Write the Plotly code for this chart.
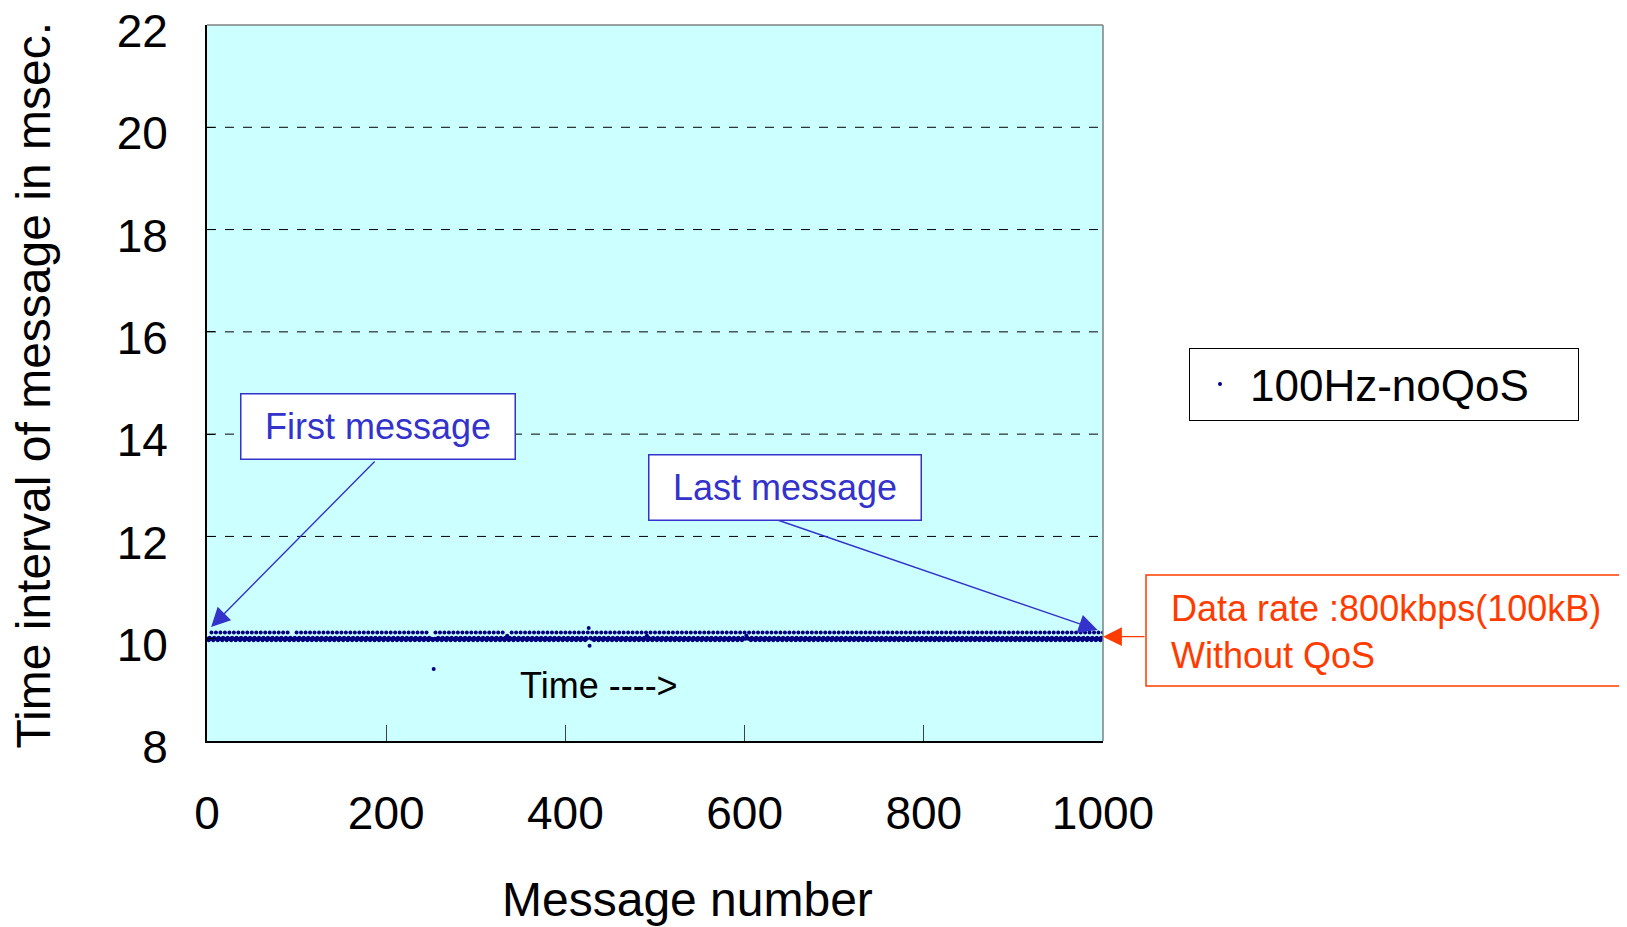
import plotly.graph_objects as go

# ---- data ----
x_ticks = [0, 200, 400, 600, 800, 1000]
y_ticks = [8, 10, 12, 14, 16, 18, 20, 22]
series_name = "100Hz-noQoS"

message_number = list(range(1, 1001))
interval_ms = [
    10.0, 9.97, 10.02, 10.0, 10.12, 10.0, 9.97, 10.02, 10.0, 10.12, 10.0, 9.97, 10.02, 10.0, 10.12, 10.0, 9.97, 10.02, 10.0, 10.12, 10.0, 9.97, 10.02, 10.0, 10.12,
    10.0, 9.97, 10.02, 10.0, 10.12, 10.0, 9.97, 10.02, 10.0, 10.12, 10.0, 9.97, 10.02, 10.0, 10.12, 10.0, 9.97, 10.02, 10.0, 10.12, 10.0, 9.97, 10.02, 10.0, 10.12,
    10.0, 9.97, 10.02, 10.0, 10.12, 10.0, 9.97, 10.02, 10.0, 10.12, 10.0, 9.97, 10.02, 10.0, 10.12, 10.0, 9.97, 10.02, 10.0, 10.12, 10.0, 9.97, 10.02, 10.0, 10.12,
    10.0, 9.97, 10.02, 10.0, 10.12, 10.0, 9.97, 10.02, 10.0, 10.12, 10.0, 9.97, 10.02, 10.0, 10.12, 10.0, 9.97, 10.02, 10.0, 10.0, 10.0, 9.97, 10.02, 10.0, 10.12,
    10.0, 9.97, 10.02, 10.0, 10.12, 10.0, 9.97, 10.02, 10.0, 10.12, 10.0, 9.97, 10.02, 10.0, 10.12, 10.0, 9.97, 10.02, 10.0, 10.12, 10.0, 9.97, 10.02, 10.0, 10.12,
    10.0, 9.97, 10.02, 10.0, 10.12, 10.0, 9.97, 10.02, 10.0, 10.12, 10.0, 9.97, 10.02, 10.0, 10.12, 10.0, 9.97, 10.02, 10.0, 10.12, 10.0, 9.97, 10.02, 10.0, 10.12,
    10.0, 9.97, 10.02, 10.0, 10.12, 10.0, 9.97, 10.02, 10.0, 10.12, 10.0, 9.97, 10.02, 10.0, 10.12, 10.0, 9.97, 10.02, 10.0, 10.12, 10.0, 9.97, 10.02, 10.0, 10.12,
    10.0, 9.97, 10.02, 10.0, 10.12, 10.0, 9.97, 10.02, 10.0, 10.12, 10.0, 9.97, 10.02, 10.0, 10.12, 10.0, 9.97, 10.02, 10.0, 10.12, 10.0, 9.97, 10.02, 10.0, 10.12,
    10.0, 9.97, 10.02, 10.0, 10.12, 10.0, 9.97, 10.02, 10.0, 10.12, 10.0, 9.97, 10.02, 10.0, 10.12, 10.0, 9.97, 10.02, 10.0, 10.12, 10.0, 9.97, 10.02, 10.0, 10.12,
    10.0, 9.97, 10.02, 10.0, 10.12, 10.0, 9.97, 10.02, 10.0, 10.12, 10.0, 9.97, 10.02, 10.0, 10.12, 10.0, 9.97, 10.02, 10.0, 10.12, 10.0, 9.97, 10.02, 10.0, 10.0,
    10.0, 9.97, 9.41, 10.0, 10.12, 10.0, 9.97, 10.02, 10.0, 10.12, 10.0, 9.97, 10.02, 10.0, 10.12, 10.0, 9.97, 10.02, 10.0, 10.12, 10.0, 9.97, 10.02, 10.0, 10.12,
    10.0, 9.97, 10.02, 10.0, 10.12, 10.0, 9.97, 10.02, 10.0, 10.12, 10.0, 9.97, 10.02, 10.0, 10.12, 10.0, 9.97, 10.02, 10.0, 10.12, 10.0, 9.97, 10.02, 10.0, 10.12,
    10.0, 9.97, 10.02, 10.0, 10.12, 10.0, 9.97, 10.02, 10.0, 10.12, 10.0, 9.97, 10.02, 10.0, 10.12, 10.0, 9.97, 10.02, 10.0, 10.12, 10.0, 9.97, 10.02, 10.0, 10.12,
    10.0, 9.97, 10.02, 10.0, 10.12, 10.0, 9.97, 10.02, 10.0, 10.06, 10.0, 9.97, 10.02, 10.0, 10.12, 10.0, 9.97, 10.02, 10.0, 10.12, 10.0, 9.97, 10.02, 10.0, 10.12,
    10.0, 9.97, 10.02, 10.0, 10.12, 10.0, 9.97, 10.02, 10.0, 10.12, 10.0, 9.97, 10.02, 10.0, 10.12, 10.0, 9.97, 10.02, 10.0, 10.12, 10.0, 9.97, 10.02, 10.0, 10.12,
    10.0, 9.97, 10.02, 10.0, 10.12, 10.0, 9.97, 10.02, 10.0, 10.12, 10.0, 9.97, 10.02, 10.0, 10.12, 10.0, 9.97, 10.02, 10.0, 10.12, 10.0, 9.97, 10.02, 10.0, 10.12,
    10.0, 9.97, 10.02, 10.0, 10.12, 10.0, 9.97, 10.02, 10.0, 10.12, 10.0, 9.97, 10.02, 10.0, 10.12, 10.0, 9.97, 10.02, 10.0, 10.12, 10.0, 9.97, 10.02, 10.0, 10.12,
    10.21, 9.86, 10.02, 10.0, 10.12, 10.0, 9.97, 10.02, 10.0, 10.12, 10.0, 9.97, 10.02, 10.0, 10.12, 10.0, 9.97, 10.02, 10.0, 10.12, 10.0, 9.97, 10.02, 10.0, 10.12,
    10.0, 9.97, 10.02, 10.0, 10.12, 10.0, 9.97, 10.02, 10.0, 10.12, 10.0, 9.97, 10.02, 10.0, 10.12, 10.0, 9.97, 10.02, 10.0, 10.12, 10.0, 9.97, 10.02, 10.0, 10.12,
    10.0, 9.97, 10.02, 10.0, 10.12, 10.0, 9.97, 10.02, 10.0, 10.12, 10.0, 9.97, 10.02, 10.0, 10.12, 10.06, 9.97, 10.02, 10.0, 10.12, 10.0, 9.97, 10.02, 10.0, 10.12,
    10.0, 9.97, 10.02, 10.0, 10.12, 10.0, 9.97, 10.02, 10.0, 10.12, 10.0, 9.97, 10.02, 10.0, 10.12, 10.0, 9.97, 10.02, 10.0, 10.12, 10.0, 9.97, 10.02, 10.0, 10.12,
    10.0, 9.97, 10.02, 10.0, 10.12, 10.0, 9.97, 10.02, 10.0, 10.12, 10.0, 9.97, 10.02, 10.0, 10.12, 10.0, 9.97, 10.02, 10.0, 10.12, 10.0, 9.97, 10.02, 10.0, 10.12,
    10.0, 9.97, 10.02, 10.0, 10.12, 10.0, 9.97, 10.02, 10.0, 10.12, 10.0, 9.97, 10.02, 10.0, 10.12, 10.0, 9.97, 10.02, 10.0, 10.12, 10.0, 9.97, 10.02, 10.0, 10.12,
    10.0, 9.97, 10.02, 10.0, 10.12, 10.0, 9.97, 10.02, 10.0, 10.12, 10.0, 9.97, 10.02, 10.0, 10.12, 10.0, 9.97, 10.02, 10.0, 10.12, 10.0, 9.97, 10.02, 10.0, 10.12,
    10.0, 10.06, 10.02, 10.0, 10.12, 10.0, 9.97, 10.02, 10.0, 10.12, 10.0, 9.97, 10.02, 10.0, 10.12, 10.0, 9.97, 10.02, 10.0, 10.12, 10.0, 9.97, 10.02, 10.0, 10.12,
    10.0, 9.97, 10.02, 10.0, 10.12, 10.0, 9.97, 10.02, 10.0, 10.12, 10.0, 9.97, 10.02, 10.0, 10.12, 10.0, 9.97, 10.02, 10.0, 10.12, 10.0, 9.97, 10.02, 10.0, 10.12,
    10.0, 9.97, 10.02, 10.0, 10.12, 10.0, 9.97, 10.02, 10.0, 10.12, 10.0, 9.97, 10.02, 10.0, 10.12, 10.0, 9.97, 10.02, 10.0, 10.12, 10.0, 9.97, 10.02, 10.0, 10.12,
    10.0, 9.97, 10.02, 10.0, 10.12, 10.0, 9.97, 10.02, 10.0, 10.12, 10.0, 9.97, 10.02, 10.0, 10.12, 10.0, 9.97, 10.02, 10.0, 10.12, 10.0, 9.97, 10.02, 10.0, 10.12,
    10.0, 9.97, 10.02, 10.0, 10.12, 10.0, 9.97, 10.02, 10.0, 10.12, 10.0, 9.97, 10.02, 10.0, 10.12, 10.0, 9.97, 10.02, 10.0, 10.12, 10.0, 9.97, 10.02, 10.0, 10.12,
    10.0, 9.97, 10.02, 10.0, 10.12, 10.0, 9.97, 10.02, 10.0, 10.12, 10.0, 9.97, 10.02, 10.0, 10.12, 10.0, 9.97, 10.02, 10.0, 10.12, 10.0, 9.97, 10.02, 10.0, 10.12,
    10.0, 9.97, 10.02, 10.0, 10.12, 10.0, 9.97, 10.02, 10.0, 10.12, 10.0, 9.97, 10.02, 10.0, 10.12, 10.0, 9.97, 10.02, 10.0, 10.12, 10.0, 9.97, 10.02, 10.0, 10.12,
    10.0, 9.97, 10.02, 10.0, 10.12, 10.0, 9.97, 10.02, 10.0, 10.12, 10.0, 9.97, 10.02, 10.0, 10.12, 10.0, 9.97, 10.02, 10.0, 10.12, 10.0, 9.97, 10.02, 10.0, 10.12,
    10.0, 9.97, 10.02, 10.0, 10.12, 10.0, 9.97, 10.02, 10.0, 10.12, 10.0, 9.97, 10.02, 10.0, 10.12, 10.0, 9.97, 10.02, 10.0, 10.12, 10.0, 9.97, 10.02, 10.0, 10.12,
    10.0, 9.97, 10.02, 10.0, 10.12, 10.0, 9.97, 10.02, 10.0, 10.12, 10.0, 9.97, 10.02, 10.0, 10.12, 10.0, 9.97, 10.02, 10.0, 10.12, 10.0, 9.97, 10.02, 10.0, 10.12,
    10.0, 9.97, 10.02, 10.0, 10.12, 10.0, 9.97, 10.02, 10.0, 10.12, 10.0, 9.97, 10.02, 10.0, 10.12, 10.0, 9.97, 10.02, 10.0, 10.12, 10.0, 9.97, 10.02, 10.0, 10.12,
    10.0, 9.97, 10.02, 10.0, 10.12, 10.0, 9.97, 10.02, 10.0, 10.12, 10.0, 9.97, 10.02, 10.0, 10.12, 10.0, 9.97, 10.02, 10.0, 10.12, 10.0, 9.97, 10.02, 10.0, 10.12,
    10.0, 9.97, 10.02, 10.0, 10.12, 10.0, 9.97, 10.02, 10.0, 10.12, 10.0, 9.97, 10.02, 10.0, 10.12, 10.0, 9.97, 10.02, 10.0, 10.12, 10.0, 9.97, 10.02, 10.0, 10.12,
    10.0, 9.97, 10.02, 10.0, 10.12, 10.0, 9.97, 10.02, 10.0, 10.12, 10.0, 9.97, 10.02, 10.0, 10.12, 10.0, 9.97, 10.02, 10.0, 10.12, 10.0, 9.97, 10.02, 10.0, 10.12,
    10.0, 9.97, 10.02, 10.0, 10.12, 10.0, 9.97, 10.02, 10.0, 10.12, 10.0, 9.97, 10.02, 10.0, 10.12, 10.0, 9.97, 10.02, 10.0, 10.12, 10.0, 9.97, 10.02, 10.0, 10.12,
    10.0, 9.97, 10.02, 10.0, 10.12, 10.0, 9.97, 10.02, 10.0, 10.12, 10.0, 9.97, 10.02, 10.0, 10.12, 10.0, 9.97, 10.02, 10.0, 10.12, 10.0, 9.97, 10.02, 10.0, 10.12,
]

n = min(len(message_number), len(interval_ms))
message_number = message_number[:n]
interval_ms = interval_ms[:n]

FONT = "Arial, Liberation Sans, sans-serif"
BLUE = "#3333CC"
RED = "#FF3C00"

fig = go.Figure()
fig.add_trace(go.Scatter(
    x=message_number, y=interval_ms, mode="markers", name=series_name,
    marker=dict(color="#000080", size=4, line=dict(width=0)),
))

shapes = []
for v in y_ticks[1:-1]:
    shapes.append(dict(type="line", xref="x", yref="y", x0=0, x1=1000, y0=v, y1=v,
                       line=dict(color="black", width=1, dash="dash"), layer="below"))
# gray frame top/right
shapes.append(dict(type="line", xref="paper", yref="paper", x0=0, x1=1, y0=1, y1=1,
                   line=dict(color="#808080", width=1.5), layer="above"))
shapes.append(dict(type="line", xref="paper", yref="paper", x0=1, x1=1, y0=0, y1=1,
                   line=dict(color="#808080", width=1.5), layer="above"))
# red box
shapes.append(dict(type="rect", xref="paper", yref="paper", x0=1.048, x1=1.66, y0=0.0768, y1=0.2318,
                   line=dict(color=RED, width=1.5), fillcolor="white", layer="above"))

ARW = dict(showarrow=True, arrowhead=2, arrowsize=2.7, arrowwidth=1.4, text="")
annotations = [
    # arrows
    dict(x=4.6, y=10.23, xref="x", yref="y", ax=165, ay=-167, arrowcolor=BLUE, **ARW),
    dict(x=994, y=10.17, xref="x", yref="y", ax=-323, ay=-111, arrowcolor=BLUE, **ARW),
    dict(x=1000, y=10.04, xref="x", yref="y", ax=43, ay=0, arrowcolor=RED, **ARW),
    # boxes
    dict(x=190.7, y=14.14, xref="x", yref="y", text="First message", showarrow=False,
         font=dict(family=FONT, size=36, color=BLUE), bgcolor="white",
         bordercolor=BLUE, borderwidth=1.5, borderpad=4, width=265, height=56),
    dict(x=645.3, y=12.95, xref="x", yref="y", text="Last message", showarrow=False,
         font=dict(family=FONT, size=36, color=BLUE), bgcolor="white",
         bordercolor=BLUE, borderwidth=1.5, borderpad=4, width=263, height=56),
    dict(x=1.0736, y=0.152, xref="paper", yref="paper", xanchor="left", yanchor="middle",
         text="Data rate :800kbps(100kB)<br>Without QoS", align="left", showarrow=False,
         font=dict(family=FONT, size=36, color=RED)),
    dict(x=437, y=9.09, xref="x", yref="y", text="Time ---->", showarrow=False,
         font=dict(family=FONT, size=36, color="black")),
    dict(x=0.536, y=-0.222, xref="paper", yref="paper", text="Message number", showarrow=False,
         xanchor="center", yanchor="middle", font=dict(family=FONT, size=48, color="black")),
    dict(x=-0.1935, y=0.496, xref="paper", yref="paper", text="Time interval of message in msec.",
         showarrow=False, textangle=-90, xanchor="center", yanchor="middle",
         font=dict(family=FONT, size=48, color="black")),
]

fig.update_layout(
    width=1619, height=919,
    margin=dict(l=198.5, r=524, t=17, b=186, autoexpand=False),
    paper_bgcolor="white", plot_bgcolor="#CCFFFF",
    font=dict(family=FONT, color="black"),
    showlegend=True,
    legend=dict(x=1.096, y=0.549, xanchor="left", yanchor="top", orientation="h",
                bordercolor="black", borderwidth=1, bgcolor="white",
                font=dict(family=FONT, size=44), itemsizing="trace",
                itemwidth=50, entrywidth=323, entrywidthmode="pixels"),
    xaxis=dict(range=[0, 1000], tickvals=x_ticks, ticks="inside", ticklen=16, tickcolor="#404040",
               showgrid=False, zeroline=False, showline=True, linecolor="black", linewidth=2,
               tickfont=dict(size=46), ticklabelstandoff=31, ticklabeloverflow="allow"),
    yaxis=dict(range=[8, 22], tickvals=y_ticks, ticks="inside", ticklen=8, tickcolor="black",
               showgrid=False, zeroline=False, showline=True, linecolor="black", linewidth=2,
               tickfont=dict(size=46), ticklabelstandoff=28, ticklabelshift=6,
               ticklabeloverflow="allow"),
    shapes=shapes, annotations=annotations,
)

fig.write_html("out.html")
